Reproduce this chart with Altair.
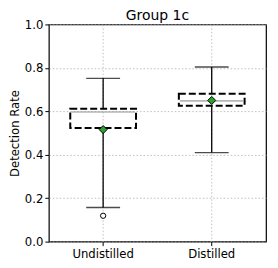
import altair as alt
import pandas as pd

cats = ["Undistilled", "Distilled"]
whisk_low = [0.157, 0.41]
q1 = [0.523, 0.626]
median = [0.597, 0.648]
q3 = [0.612, 0.681]
whisk_high = [0.752, 0.804]
mean = [0.516, 0.650]
out_cat = ["Undistilled"]
out_val = [0.119]

df = pd.DataFrame({"cat": cats, "lo": whisk_low, "q1": q1, "med": median,
                   "q3": q3, "hi": whisk_high, "mean": mean})
dfo = pd.DataFrame({"cat": out_cat, "v": out_val})

FONT = "DejaVu Sans"
xenc = alt.X("cat:N", sort=cats, title=None,
             scale=alt.Scale(paddingInner=0, paddingOuter=0),
             axis=alt.Axis(labelAngle=0, bandPosition=0.5, grid=True,
                           gridDash=[1.5, 2], gridColor="#b0b0b0", gridWidth=0.8,
                           tickColor="black", tickSize=4, labelPadding=3,
                           labelFontSize=11.7, labelColor="black", labelFont=FONT,
                           domain=False))
yscale = alt.Scale(domain=[0, 1], nice=False, zero=False)
yaxis = alt.Axis(values=[0, 0.2, 0.4, 0.6, 0.8, 1.0], format=".1f",
                 grid=True, gridDash=[1.5, 2], gridColor="#b0b0b0", gridWidth=0.8,
                 tickColor="black", tickSize=4, labelPadding=2,
                 labelFontSize=11.7, labelColor="black", labelFont=FONT,
                 title="Detection Rate", titleFontSize=11.7, titleFontWeight="normal",
                 titleFont=FONT, titleColor="black", titlePadding=4, domain=False)

base = alt.Chart(df)
w_low = base.mark_rule(color="black", strokeWidth=1.3).encode(
    x=xenc, y=alt.Y("lo:Q", scale=yscale, axis=yaxis), y2="q1:Q")
w_high = base.mark_rule(color="black", strokeWidth=1.3).encode(
    x=alt.X("cat:N", sort=cats), y="q3:Q", y2="hi:Q")
cap_lo = base.mark_tick(color="black", size=34, thickness=1.3, orient="horizontal").encode(
    x=alt.X("cat:N", sort=cats), y="lo:Q")
cap_hi = base.mark_tick(color="black", size=34, thickness=1.3, orient="horizontal").encode(
    x=alt.X("cat:N", sort=cats), y="hi:Q")
box = base.mark_bar(size=66, fill="transparent", stroke="black", strokeWidth=2,
                    strokeDash=[7, 3]).encode(
    x=alt.X("cat:N", sort=cats), y="q1:Q", y2="q3:Q")
med = base.mark_tick(color="#999999", size=64, thickness=1.6, orient="horizontal").encode(
    x=alt.X("cat:N", sort=cats), y="med:Q")
mn = base.mark_point(shape="diamond", filled=True, fill="#2ca02c", stroke="black",
                     strokeWidth=1, size=65, opacity=1).encode(
    x=alt.X("cat:N", sort=cats), y="mean:Q")
outl = alt.Chart(dfo).mark_point(shape="circle", filled=False, fill="white",
                                 stroke="black", strokeWidth=1, size=28, opacity=1).encode(
    x=alt.X("cat:N", sort=cats), y="v:Q")

chart = alt.layer(w_low, w_high, cap_lo, cap_hi, box, med, mn, outl).properties(
    width=218, height=218,
    title=alt.TitleParams("Group 1c", fontSize=14, fontWeight="normal", font=FONT,
                          color="black", offset=1, dy=5, frame="group"),
    autosize="none",
    padding={"left": 41, "top": 16, "right": 4, "bottom": 26},
).configure_view(stroke="black", strokeWidth=1.2)

chart.save("out.html", embed_options={"renderer": "svg", "actions": False})
